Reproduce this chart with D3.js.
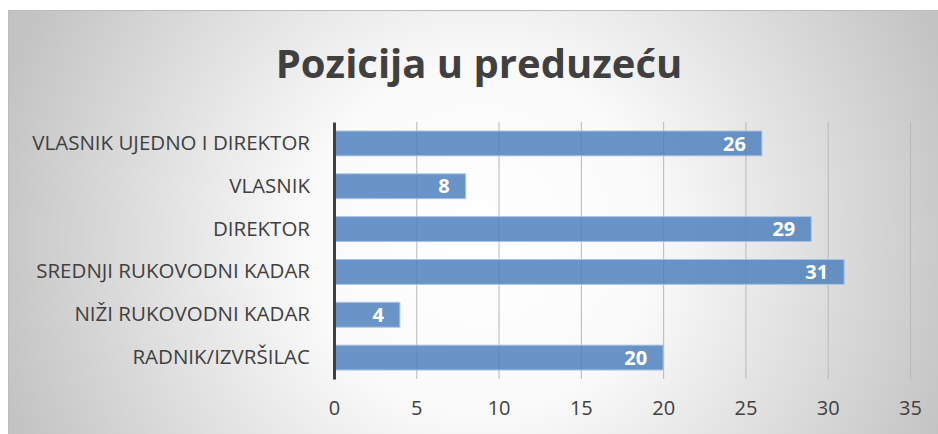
<!DOCTYPE html>
<html><head><meta charset="utf-8">
<script src="https://cdn.jsdelivr.net/npm/d3@7"></script>
<style>body{margin:0;background:#fff}svg{display:block}</style>
</head><body>
<script>
const title = "Pozicija u preduzeću";
const categories = ["VLASNIK UJEDNO I DIREKTOR","VLASNIK","DIREKTOR","SREDNJI RUKOVODNI KADAR","NIŽI RUKOVODNI KADAR","RADNIK/IZVRŠILAC"];
const values = [26, 8, 29, 31, 4, 20];
const xTicks = [0, 5, 10, 15, 20, 25, 30, 35];

const W = 938, H = 434;
const svg = d3.select("body").append("svg").attr("width", W).attr("height", H);
const defs = svg.append("defs");
const g = defs.append("radialGradient").attr("id","bg").attr("gradientUnits","userSpaceOnUse")
  .attr("cx",480).attr("cy",240).attr("r",500);
g.append("stop").attr("offset","0").attr("stop-color","#ffffff");
g.append("stop").attr("offset","0.35").attr("stop-color","#fafafa");
g.append("stop").attr("offset","1").attr("stop-color","#c3c3c3");

svg.append("rect").attr("x",8.5).attr("y",10.5).attr("width",960).attr("height",460)
  .attr("fill","url(#bg)").attr("stroke","#bcbcbc").attr("stroke-width",1);

const font = "Open Sans, Lato, sans-serif";
const x = d3.scaleLinear().domain([0,35]).range([334, 910]);
const y = d3.scaleBand().domain(categories).range([122, 379]).paddingInner(0.42).paddingOuter(0.21);

svg.append("text").attr("x",479).attr("y",78).attr("text-anchor","middle")
  .attr("font-family",font).attr("font-weight","bold").attr("font-size",40).attr("fill","#404040").text(title);

// gridlines
svg.append("g").selectAll("line").data(xTicks.slice(1)).join("line")
  .attr("x1",d=>x(d)+0.5).attr("x2",d=>x(d)+0.5).attr("y1",122).attr("y2",379)
  .attr("stroke","#b8b8b8").attr("stroke-width",1);

// bars
svg.append("g").selectAll("rect").data(values).join("rect")
  .attr("x",x(0)).attr("y",(d,i)=>y(categories[i]))
  .attr("width",d=>x(d)-x(0)).attr("height",y.bandwidth())
  .attr("fill","#4f81bd").attr("fill-opacity",0.85)
  .attr("stroke","#a9c1e3").attr("stroke-width",1);

// value labels
svg.append("g").selectAll("text").data(values).join("text")
  .attr("x",d=>x(d)-16).attr("y",(d,i)=>y(categories[i])+y.bandwidth()/2)
  .attr("dy","0.36em").attr("text-anchor","end")
  .attr("font-family",font).attr("font-weight","bold").attr("font-size",20).attr("fill","#ffffff")
  .text(d=>d);

// y axis
const ya = svg.append("g").attr("transform",`translate(${x(0)},0)`)
  .call(d3.axisLeft(y).tickSize(0).tickPadding(24));
ya.select(".domain").attr("stroke","#404040").attr("stroke-width",3);
ya.selectAll("text").attr("font-family",font).attr("font-size",20.5).attr("fill","#404040");

// x axis labels
const xa = svg.append("g").attr("transform",`translate(0,379)`)
  .call(d3.axisBottom(x).tickValues(xTicks).tickSize(0).tickPadding(22));
xa.select(".domain").remove();
xa.selectAll("text").attr("font-family",font).attr("font-size",20).attr("fill","#404040");
</script>
</body></html>
